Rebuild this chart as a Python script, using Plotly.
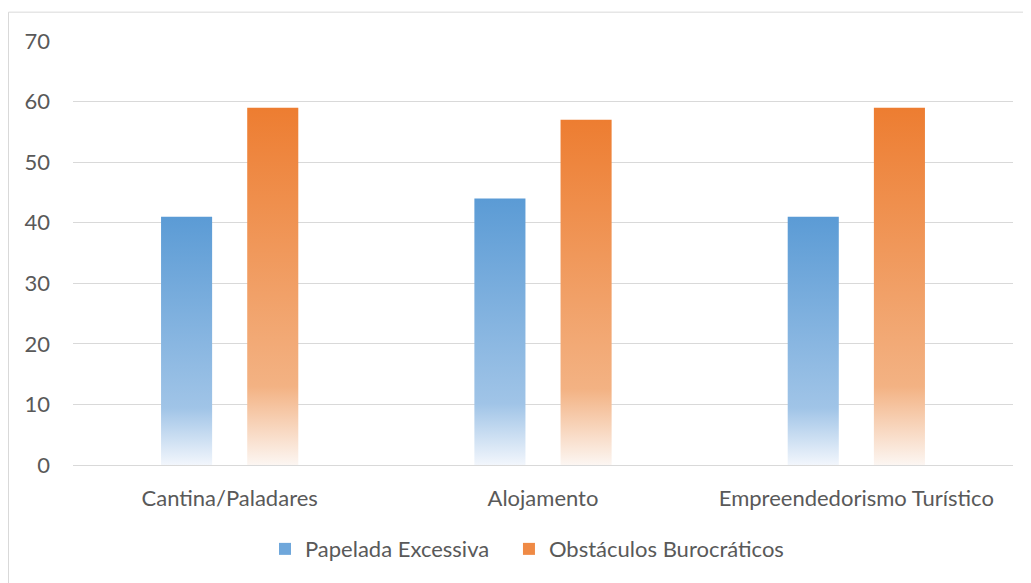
import plotly.graph_objects as go

categories = ["Cantina/Paladares", "Alojamento", "Empreendedorismo Turístico"]
papelada = [41, 44, 41]
obstaculos = [59, 57, 59]
series_names = ["Papelada Excessiva", "Obstáculos Burocráticos"]
y_ticks = [0, 10, 20, 30, 40, 50, 60, 70]

BAR_W = 0.163
OFFSET = 0.1375
FONT = "Lato"
TXT = "#595959"

blue_scale = [[0, "#F2F6FC"], [0.23, "#A0C4E7"], [1, "#5B9BD5"]]
orange_scale = [[0, "#FCF6F2"], [0.22, "#F3B283"], [1, "#ED7D31"]]

fig = go.Figure()

def add_series(values, name, off, scale, swatch, legend_id):
    # legend-only entry with a square swatch
    fig.add_trace(go.Bar(x=[None], y=[None], name=name, legendgroup=name, legend=legend_id,
                         marker=dict(color=swatch, line=dict(width=0)), showlegend=True))
    for i, v in enumerate(values):
        xc = i + off
        xs = [xc - BAR_W / 2, xc + BAR_W / 2, xc + BAR_W / 2, xc - BAR_W / 2, xc - BAR_W / 2]
        ys = [0, 0, v, v, 0]
        fig.add_trace(go.Scatter(
            x=xs, y=ys, mode="none", fill="toself",
            fillgradient=dict(type="vertical", colorscale=scale, start=0, stop=v),
            name=name, legendgroup=name, showlegend=False, legend=legend_id,
            hovertemplate=f"{categories[i]}<br>{name}: {v}<extra></extra>",
        ))

add_series(papelada, series_names[0], -OFFSET, blue_scale, "#6FA7DB", "legend")
add_series(obstaculos, series_names[1], OFFSET, orange_scale, "#EF8A45", "legend2")

leg_common = dict(orientation="h", xref="container", xanchor="left",
                  yref="container", y=0.059, yanchor="middle",
                  font=dict(size=22, color=TXT), itemwidth=30, bgcolor="rgba(0,0,0,0)")

fig.update_layout(
    width=1023, height=575,
    margin=dict(l=65, r=18, t=33, b=118),
    paper_bgcolor="white", plot_bgcolor="white",
    font=dict(family=FONT, size=22, color=TXT),
    legend=dict(x=0.2512, **leg_common),
    legend2=dict(x=0.4897, **leg_common),
    xaxis=dict(range=[-0.5, 2.5], tickmode="array", tickvals=list(range(len(categories))),
               ticktext=categories, showgrid=False, zeroline=False,
               showline=True, linecolor="#D9D9D9", linewidth=1,
               ticks="", ticklabelstandoff=14, fixedrange=True),
    yaxis=dict(range=[0, 70], tickvals=y_ticks, showgrid=True, gridcolor="#D9D9D9",
               gridwidth=1, zeroline=False, showline=False, ticks="",
               ticklabelstandoff=22, fixedrange=True),
    shapes=[dict(type="rect", xref="paper", yref="paper",
                 x0=-0.0686, x1=1.1, y0=-0.5, y1=1.068,
                 line=dict(color="#D9D9D9", width=1), fillcolor="rgba(0,0,0,0)", layer="below")],
)

fig.write_html("out.html")
